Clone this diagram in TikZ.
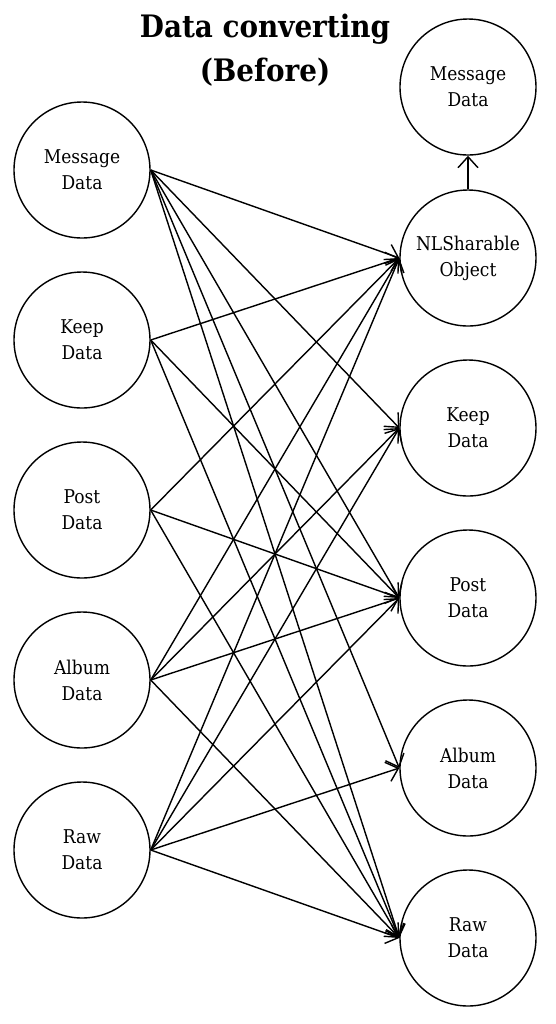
\documentclass[tikz,border=0pt]{standalone}
\usepackage{fontspec}
\setmainfont{DejaVu Serif Condensed}
\usepackage{tikz}
\usetikzlibrary{arrows.meta}

\tikzset{
    datanode/.style={circle, draw, line width=0.8pt, minimum size=2.72cm, inner sep=0pt,
        align=center, font=\fontsize{10.8}{14.8}\selectfont},
    conv/.style={line width=0.8pt, -{Straight Barb[length=2.2mm, width=4mm]}}
}

\begin{document}
\begin{tikzpicture}
    \useasboundingbox (0,0) rectangle (11.12,-20.48);

    % Title
    \node[font=\fontsize{17.6}{25}\selectfont\bfseries, align=center] (title) at (5.3,-1.0)
        {Data converting\\(Before)};

    % Left column
    \node[datanode] (lmsg)   at (1.64,-3.4)  {Message\\Data};
    \node[datanode] (lkeep)  at (1.64,-6.8)  {Keep\\Data};
    \node[datanode] (lpost)  at (1.64,-10.2) {Post\\Data};
    \node[datanode] (lalbum) at (1.64,-13.6) {Album\\Data};
    \node[datanode] (lraw)   at (1.64,-17.0) {Raw\\Data};

    % Right column
    \node[datanode] (rmsg)   at (9.36,-1.74)  {Message\\Data};
    \node[datanode] (rnl)    at (9.36,-5.16)  {NLSharable\\Object};
    \node[datanode] (rkeep)  at (9.36,-8.56)  {Keep\\Data};
    \node[datanode] (rpost)  at (9.36,-11.96) {Post\\Data};
    \node[datanode] (ralbum) at (9.36,-15.36) {Album\\Data};
    \node[datanode] (rraw)   at (9.36,-18.76) {Raw\\Data};

    % NLSharable to message
    \draw[conv] (rnl.north) -- (rmsg.south);

    % Message data
    \draw[conv] (lmsg.east) -- (rnl.west);
    \draw[conv] (lmsg.east) -- (rkeep.west);
    \draw[conv] (lmsg.east) -- (rpost.west);
    \draw[conv] (lmsg.east) -- (ralbum.west);
    \draw[conv] (lmsg.east) -- (rraw.west);

    % Keep data
    \draw[conv] (lkeep.east) -- (rnl.west);
    \draw[conv] (lkeep.east) -- (rpost.west);
    \draw[conv] (lkeep.east) -- (rraw.west);

    % Post data
    \draw[conv] (lpost.east) -- (rnl.west);
    \draw[conv] (lpost.east) -- (rpost.west);
    \draw[conv] (lpost.east) -- (rraw.west);

    % Album data
    \draw[conv] (lalbum.east) -- (rnl.west);
    \draw[conv] (lalbum.east) -- (rkeep.west);
    \draw[conv] (lalbum.east) -- (rpost.west);
    \draw[conv] (lalbum.east) -- (rraw.west);

    % Raw data
    \draw[conv] (lraw.east) -- (rnl.west);
    \draw[conv] (lraw.east) -- (rkeep.west);
    \draw[conv] (lraw.east) -- (rpost.west);
    \draw[conv] (lraw.east) -- (ralbum.west);
    \draw[conv] (lraw.east) -- (rraw.west);
\end{tikzpicture}
\end{document}
